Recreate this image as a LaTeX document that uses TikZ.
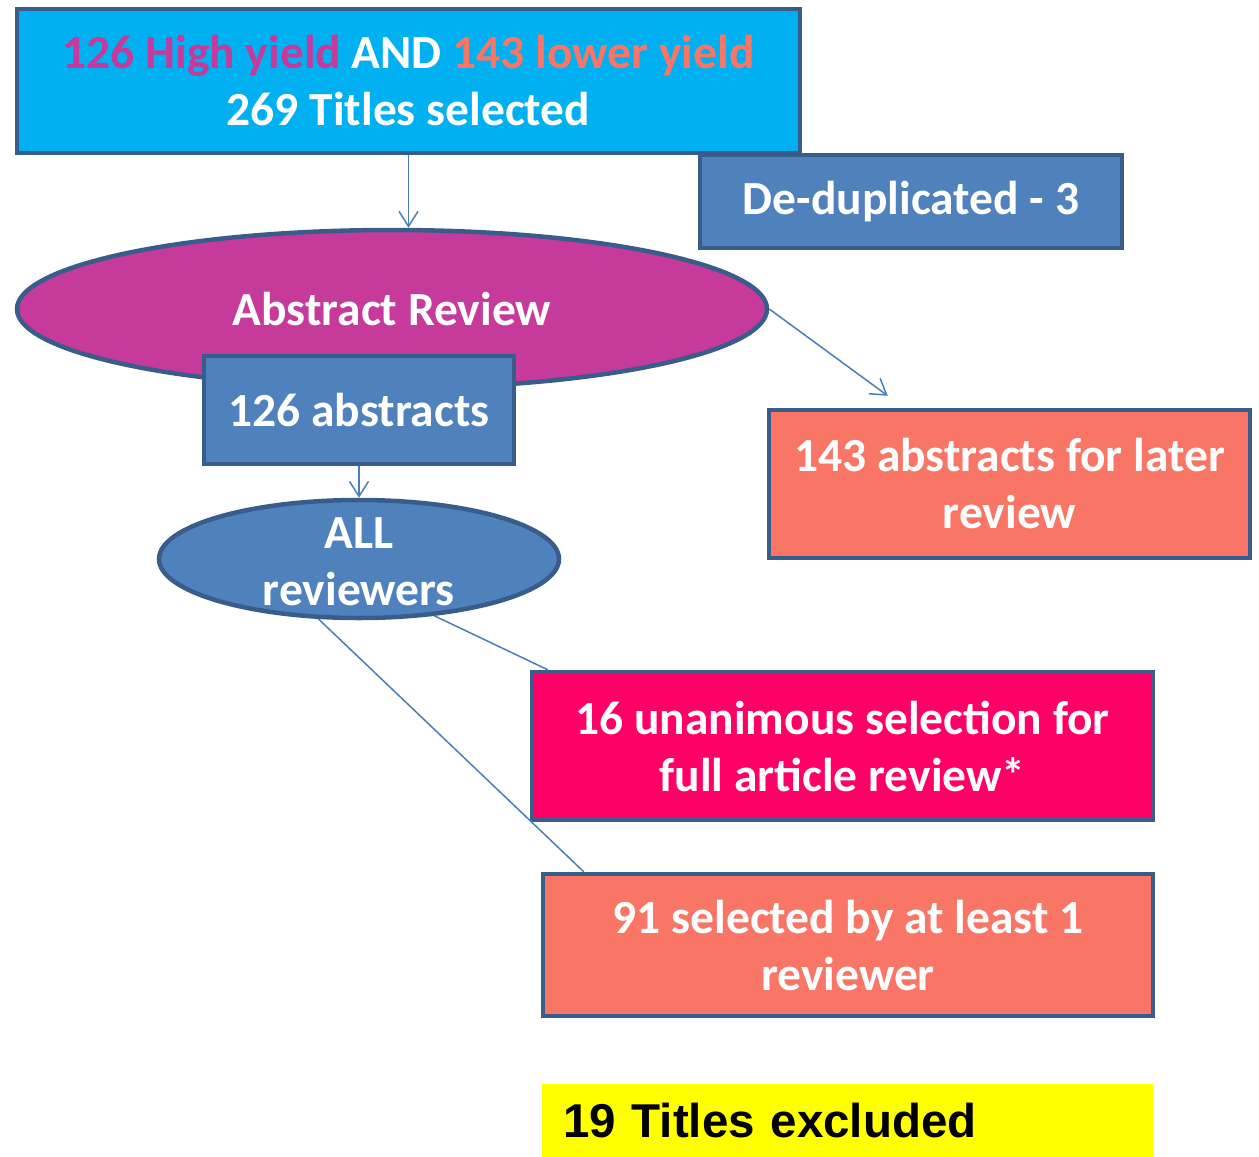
\documentclass[tikz,border=0pt]{standalone}
\usepackage{fontspec}
\setmainfont{Carlito}
\newfontfamily\arialfont{Liberation Sans}
\usetikzlibrary{arrows.meta}
\usetikzlibrary{shapes.geometric}
\usetikzlibrary{calc}
\tikzset{box/.style = {rectangle, draw=mborder, line width=4.5pt, inner sep=0pt, align=center, text=white, font=\fontsize{47.5}{57}\selectfont\bfseries}}
\tikzset{oval/.style = {box, ellipse}}
\tikzset{lbl/.style = {inner sep=0pt, align=center, text=white, font=\fontsize{47.5}{57}\selectfont\bfseries}}
\tikzset{link/.style = {draw=mline, line width=1.5pt}}
\tikzset{flow/.style = {link, -{Straight Barb[length=15pt, width=19pt]}}}
\definecolor{mcyan}{HTML}{00B0F0}
\definecolor{mborder}{HTML}{385D8A}
\definecolor{mblue}{HTML}{4F81BD}
\definecolor{mmagenta}{HTML}{C53A9A}
\definecolor{msalmon}{HTML}{F97666}
\definecolor{mpink}{HTML}{FF0066}
\definecolor{mline}{HTML}{4A7EBB}
\definecolor{myellow}{HTML}{FFFF00}

\begin{document}
\begin{tikzpicture}[x=1pt, y=-1pt]
      \useasboundingbox (0, 0) rectangle (1259, 1157);

      \node [box, fill=mblue, minimum width=422pt, minimum height=93pt] (dedup) at (911, 201.5) {De-duplicated - 3};
      \node [box, fill=mcyan, minimum width=783pt, minimum height=144pt] (titles) at (408.5, 81)
        {{\color{mmagenta}126 High yield} AND {\color{msalmon}143 lower yield}\\269 Titles selected};

      \node [oval, fill=mmagenta, minimum width=750pt, minimum height=158pt] (abstract) at (392, 309) {Abstract Review};
      \node [box, fill=mblue, minimum width=310pt, minimum height=108pt] (abs126) at (359, 410) {126 abstracts};
      \node [box, fill=msalmon, minimum width=481pt, minimum height=148pt] (later) at (1009.5, 484) {143 abstracts for later\\review};

      \node [oval, fill=mblue, minimum width=400pt, minimum height=118pt,
        label={[lbl, yshift=-3pt]center:{ALL\\reviewers}}] (allrev) at (359, 559) {};

      \node [box, fill=mpink, minimum width=621pt, minimum height=148pt] (unan) at (842.5, 746) {16 unanimous selection for\\full article review*};
      \node [box, fill=msalmon, minimum width=610pt, minimum height=142pt] (sel91) at (848, 945) {91 selected by at least 1\\reviewer};

      \node [rectangle, fill=myellow, inner sep=0pt, inner xsep=21pt, minimum width=611pt, minimum height=73pt,
        text width=569pt, align=left, font=\fontsize{47.5}{57}\selectfont\arialfont\bfseries] (excl) at (847.5, 1120.5)
        {\raisebox{-3pt}{19 Titles excluded}};

      \coordinate (laterin) at ($(later.north west)+(121, -12)$);

      \draw [flow] (titles.south) -- (titles.south |- abstract.north);
      \draw [flow] (abstract.east) -- (laterin);
      \draw [flow] (abs126.south) -- (allrev.north);
      \draw [link] (allrev.-37) -- ($(unan.north west)+(18, 0)$);
      \draw [link] (allrev.-124) -- ($(sel91.north west)+(43, 0)$);
    \end{tikzpicture}
\end{document}
